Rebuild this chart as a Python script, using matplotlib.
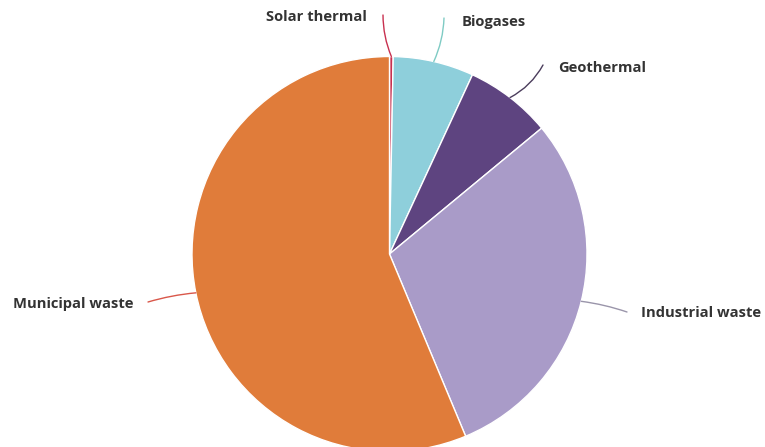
import numpy as np
import matplotlib
matplotlib.use("Agg")
import matplotlib.pyplot as plt

# data (share of renewable heat sources, %)
labels = ["Solar thermal", "Biogases", "Geothermal", "Industrial waste", "Municipal waste"]
values = [0.3, 6.6, 7.1, 29.7, 56.3]
colors = ["#C8304F", "#8ECFDB", "#5E4480", "#A99BC8", "#E07C3A"]
line_colors = ["#C8304F", "#7FCBC4", "#4B3D5C", "#9A95AA", "#D9574A"]

W, H = 765, 447
fig = plt.figure(figsize=(W / 100, H / 100), dpi=100)

# pie centre and radius in pixels (from the top-left)
cx, cy, r = 389.5, 254.0, 197.5
ax = fig.add_axes([(cx - r) / W, (H - cy - r) / H, 2 * r / W, 2 * r / H])

wedges, _ = ax.pie(values, colors=colors, startangle=90, counterclock=False,
                   radius=1, wedgeprops=dict(edgecolor="white", linewidth=1.0))
for w in wedges:
    w.set_clip_on(False)
ax.set_xlim(-1, 1)
ax.set_ylim(-1, 1)
ax.axis("off")

# label layout: end of leader line (px), text anchor (px), alignment, curvature
line_ends = [(383, 15), (444, 18), (543, 65), (627, 312), (148, 302)]
text_pos = [(367, 17), (462, 22), (558, 68), (641, 313), (13, 304)]
aligns = ["right", "left", "left", "left", "left"]
rads = [0.1, -0.1, -0.15, 0.05, -0.05]

total = sum(values)
cum = np.cumsum([0] + values)
for i, lab in enumerate(labels):
    mid = (cum[i] + cum[i + 1]) / 2 / total * 360
    ang = np.deg2rad(90 - mid)
    anchor = (np.cos(ang), np.sin(ang))
    ex, ey = line_ends[i]
    ax.annotate("", xy=anchor, xycoords="data",
                xytext=(ex, H - ey), textcoords="figure pixels",
                arrowprops=dict(arrowstyle="-", color=line_colors[i], lw=1.0,
                                shrinkA=0, shrinkB=0,
                                connectionstyle="arc3,rad=%s" % rads[i]))
    tx, ty = text_pos[i]
    fig.text(tx / W, 1 - ty / H, lab, ha=aligns[i], va="center",
             fontsize=10.6, fontweight="bold", family="Open Sans", color="#333333")

fig.savefig("out.png", dpi=100, facecolor="white")
